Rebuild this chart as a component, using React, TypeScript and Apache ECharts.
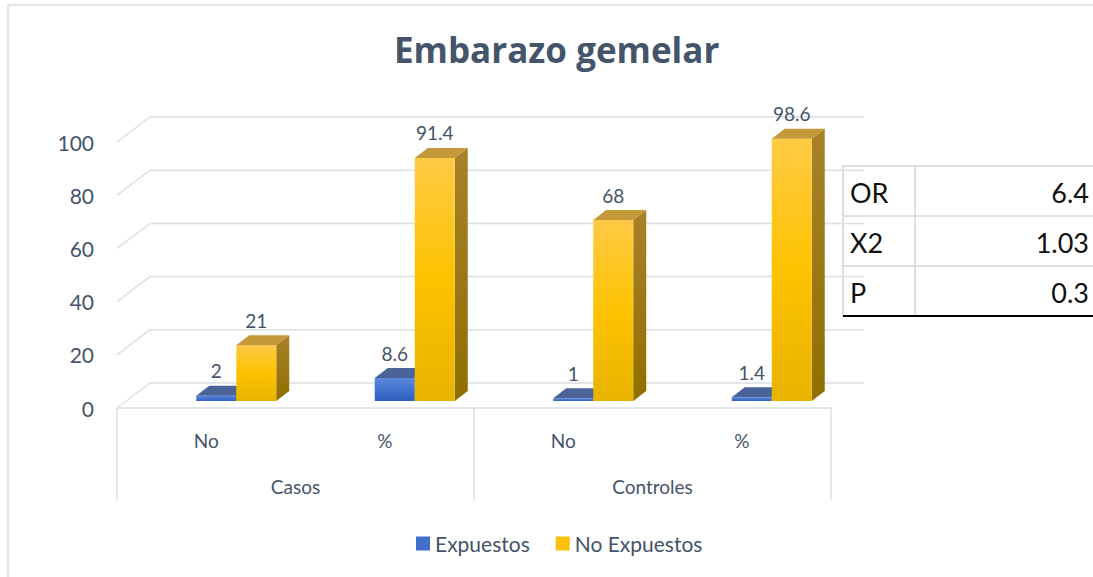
import React, { useEffect, useRef } from "react";
import * as echarts from "echarts";

const categories = ["No", "%", "No", "%"];
const groups = ["Casos", "Controles"];
const expuestos = [2, 8.6, 1, 1.4];
const noExpuestos = [21, 91.4, 68, 98.6];
const yTicks = [0, 20, 40, 60, 80, 100];
const statLabels = ["OR", "X2", "P"];
const statValues = ["6.4", "1.03", "0.3"];

const FONT = "Lato, 'Open Sans', sans-serif";
const TXT = "#44546a";
const GRID_C = "#dcdfe4";
const BW = 40;
const DX = 13;
const DY = -10;
const WALL_DX = 33;
const WALL_DY = -25;

function makeBarRender(side: number, front: string[], topC: string, sideC: string[]) {
  return (params: any, api: any) => {
    const idx = api.value(0);
    const val = api.value(1);
    const top = api.coord([idx, val]);
    const base = api.coord([idx, 0]);
    const cx = top[0];
    const x0 = side < 0 ? cx - BW : cx;
    const x1 = x0 + BW;
    const yT = top[1];
    const yB = base[1];
    return {
      type: "group",
      children: [
        {
          type: "polygon",
          shape: { points: [[x1, yT], [x1 + DX, yT + DY], [x1 + DX, yB + DY], [x1, yB]] },
          style: {
            fill: new echarts.graphic.LinearGradient(0, 0, 0, 1, [
              { offset: 0, color: sideC[0] },
              { offset: 1, color: sideC[1] },
            ]),
          },
        },
        {
          type: "rect",
          shape: { x: x0, y: yT, width: BW, height: yB - yT },
          style: {
            fill: new echarts.graphic.LinearGradient(0, 0, 0, 1, [
              { offset: 0, color: front[0] },
              { offset: 0.5, color: front[1] },
              { offset: 1, color: front[2] },
            ]),
          },
        },
        {
          type: "polygon",
          shape: { points: [[x0, yT], [x1, yT], [x1 + DX, yT + DY], [x0 + DX, yT + DY]] },
          style: { fill: topC },
        },
        {
          type: "text",
          style: {
            text: String(val),
            x: (x0 + x1) / 2,
            y: yT - 25,
            align: "center",
            verticalAlign: "middle",
            fill: TXT,
            font: `19px ${FONT}`,
          },
        },
      ],
    };
  };
}

export default function App() {
  const ref = useRef<HTMLDivElement>(null);
  useEffect(() => {
    if (!ref.current) return;
    const chart = echarts.init(ref.current, null, { renderer: "svg" });

    const tableX = 843;
    const tableY = 166;
    const rowH = 50;
    const colX = 915;
    const tableChildren: any[] = [
      {
        type: "rect",
        shape: { x: tableX, y: tableY, width: 300, height: rowH * statLabels.length },
        style: { fill: "#ffffff", stroke: "#d4d4d4", lineWidth: 1.5 },
      },
      {
        type: "line",
        shape: { x1: colX, y1: tableY, x2: colX, y2: tableY + rowH * statLabels.length },
        style: { stroke: "#d4d4d4", lineWidth: 1.5 },
      },
      {
        type: "line",
        shape: { x1: tableX, y1: tableY + rowH * statLabels.length, x2: 1100, y2: tableY + rowH * statLabels.length },
        style: { stroke: "#000000", lineWidth: 2 },
      },
    ];
    statLabels.forEach((lab, i) => {
      if (i > 0) {
        tableChildren.push({
          type: "line",
          shape: { x1: tableX, y1: tableY + rowH * i, x2: 1100, y2: tableY + rowH * i },
          style: { stroke: "#d4d4d4", lineWidth: 1.5 },
        });
      }
      tableChildren.push({
        type: "text",
        style: {
          text: lab,
          x: tableX + 7,
          y: tableY + rowH * i + rowH / 2 + 1,
          align: "left",
          verticalAlign: "middle",
          fill: "#111111",
          font: `27px ${FONT}`,
        },
      });
      tableChildren.push({
        type: "text",
        style: {
          text: statValues[i],
          x: 1089,
          y: tableY + rowH * i + rowH / 2 + 1,
          align: "right",
          verticalAlign: "middle",
          fill: "#111111",
          font: `27px ${FONT}`,
        },
      });
    });

    chart.setOption({
      animation: false,
      title: {
        text: "Embarazo gemelar",
        left: 389,
        top: 27,
        textStyle: { fontFamily: "'Open Sans', Lato, sans-serif", fontWeight: "bold", fontSize: 35, color: TXT },
      },
      legend: {
        data: ["Expuestos", "No Expuestos"],
        left: 411,
        top: 528,
        icon: "rect",
        itemWidth: 14,
        itemHeight: 14,
        itemGap: 26,
        itemTextGap: 7,
        textStyle: { fontFamily: FONT, fontSize: 21, color: TXT },
      },
      grid: [
        { left: 117, top: 142, width: 714, height: 266 },
        { left: 147, top: 135, width: 714, height: 266 },
      ],
      xAxis: [
        {
          type: "category",
          gridIndex: 0,
          position: "bottom",
          offset: 0,
          data: categories,
          axisLine: { show: true, lineStyle: { color: GRID_C, width: 1.5 } },
          axisTick: { show: false },
          axisLabel: { margin: 32, verticalAlign: "middle", fontFamily: FONT, fontSize: 19, color: TXT },
        },
        {
          type: "category",
          gridIndex: 0,
          position: "bottom",
          offset: 0,
          data: groups,
          axisLine: { show: false },
          axisTick: { show: true, length: 92, interval: 0, lineStyle: { color: GRID_C, width: 1.5 } },
          axisLabel: { margin: 78, verticalAlign: "middle", fontFamily: FONT, fontSize: 19, color: TXT },
        },
        {
          type: "category",
          gridIndex: 1,
          data: categories,
          show: false,
        },
      ],
      yAxis: [
        {
          type: "value",
          gridIndex: 0,
          min: 0,
          max: 100,
          interval: 20,
          axisLine: { show: false },
          axisTick: { show: false },
          splitLine: { show: false },
          axisLabel: { margin: 23, fontFamily: FONT, fontSize: 21, color: TXT },
        },
        {
          type: "value",
          gridIndex: 1,
          min: 0,
          max: 100,
          interval: 20,
          show: false,
          splitLine: { show: false },
        },
      ],
      series: [
        {
          type: "custom",
          name: "walls",
          xAxisIndex: 0,
          yAxisIndex: 0,
          silent: true,
          z: 1,
          data: yTicks.map((v) => [0, v]),
          encode: { x: 0, y: 1 },
          renderItem: (params: any, api: any) => {
            const v = api.value(1);
            const y = api.coord([0, v])[1];
            const cs = params.coordSys;
            const x0 = cs.x;
            return {
              type: "polyline",
              shape: {
                points: [
                  [x0, y],
                  [x0 + WALL_DX, y + WALL_DY],
                  [x0 + cs.width + WALL_DX, y + WALL_DY],
                ],
              },
              style: { stroke: GRID_C, lineWidth: 1.5, fill: "none" },
            };
          },
        },
        {
          type: "custom",
          name: "Expuestos",
          xAxisIndex: 2,
          yAxisIndex: 1,
          z: 3,
          itemStyle: { color: "#3f6fcb" },
          data: expuestos.map((v, i) => [i, v]),
          encode: { x: 0, y: 1 },
          renderItem: makeBarRender(-1, ["#5b87d9", "#4374d0", "#2f5fbd"], "#4a6399", ["#3a5590", "#2c4680"]),
        },
        {
          type: "custom",
          name: "No Expuestos",
          xAxisIndex: 2,
          yAxisIndex: 1,
          z: 4,
          itemStyle: { color: "#fdc00a" },
          data: noExpuestos.map((v, i) => [i, v]),
          encode: { x: 0, y: 1 },
          renderItem: makeBarRender(1, ["#ffca45", "#fdc300", "#e8b300"], "#c3993a", ["#a8812a", "#906f00"]),
        },
      ],
      graphic: [
        {
          type: "rect",
          z: -10,
          silent: true,
          shape: { x: 8, y: 5, width: 1200, height: 700 },
          style: { fill: "none", stroke: "#d9dce1", lineWidth: 1.5 },
        },
        {
          type: "group",
          z: 100,
          children: tableChildren,
        },
      ],
    });
    return () => chart.dispose();
  }, []);
  return (
    <div
      ref={ref}
      style={{ position: "fixed", left: 0, top: 0, width: 1093, height: 577, background: "#ffffff" }}
    />
  );
}
